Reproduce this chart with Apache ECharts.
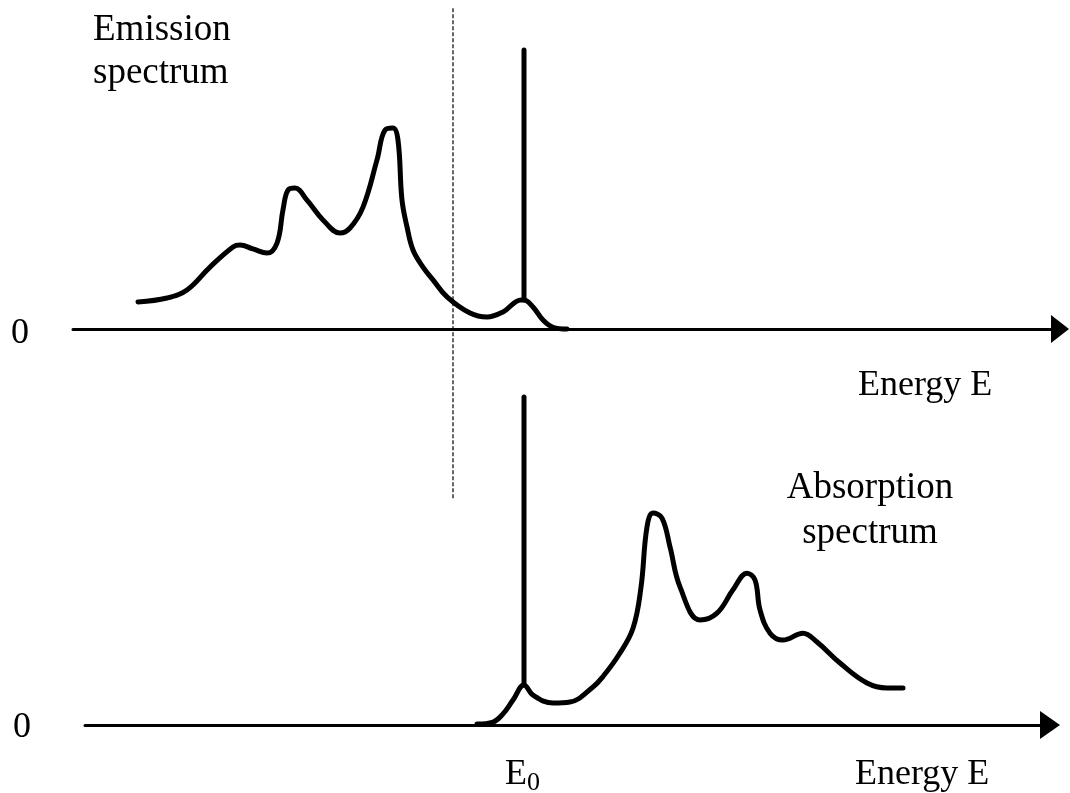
<!DOCTYPE html>
<html>
<head>
<meta charset="utf-8">
<title>Emission and absorption spectra</title>
<script src="https://cdn.jsdelivr.net/npm/echarts@6/dist/echarts.min.js"></script>
<style>
  html, body { margin: 0; padding: 0; background: #fff; }
  #chart { width: 1070px; height: 793px; }
</style>
</head>
<body>
<div id="chart"></div>
<script>
// Energy (arbitrary units) and intensity (0-100) sampled along each spectrum
const emissionE = [6.5, 9.4, 11.4, 13.7, 16.0, 16.7, 18.0, 19.4, 20.4, 21.0, 21.5, 22.2, 23.4, 25.0, 26.7, 27.7, 29.0, 30.4, 31.2, 32.0, 32.5, 32.9, 33.4, 34.0, 35.0, 36.0, 37.4, 39.7, 41.4, 43.0, 44.8, 45.1, 46.0, 47.0, 48.0, 49.4];
const emissionI = [9.7, 11.1, 14.0, 22.2, 29.4, 30.1, 28.7, 27.2, 30.8, 42.7, 49.8, 50.5, 46.2, 39.1, 34.4, 36.2, 43.7, 60.6, 71.3, 72.0, 67.7, 46.2, 36.6, 28.3, 22.2, 17.6, 11.5, 5.7, 4.3, 6.1, 10.4, 10.4, 7.9, 3.2, 0.6, 0];

const absorptionE = [40.4, 42.0, 43.0, 44.0, 45.1, 46.0, 48.0, 49.7, 52.0, 53.0, 54.6, 56.0, 56.8, 57.4, 58.0, 58.9, 59.7, 60.7, 62.7, 64.4, 66.0, 67.4, 68.2, 68.7, 69.7, 71.0, 73.0, 74.4, 76.7, 79.4, 81.4, 83.0];
const absorptionI = [0.3, 0.9, 3.4, 7.6, 12.2, 9.1, 6.7, 7.0, 11.6, 14.8, 21.5, 29.5, 42.0, 60.4, 64.6, 63.1, 54.3, 42.1, 32.0, 34.1, 41.2, 46.3, 44.2, 35.1, 28.0, 25.9, 28.0, 25.3, 18.9, 12.8, 11.3, 11.3];

// Zero-phonon line at E0, drawn as a sharp spike in both spectra
const E0 = 45.1;
const emissionSpike = [10.4, 100];
const absorptionSpike = [12.2, 100];

// Dashed guide: energy and its extent (top of the emission panel down into the absorption panel)
const guideE = 38.0;
const guideTopI = 115;     // intensity units of the emission panel
const guideBottomI = 69;   // intensity units of the absorption panel

// Visible energy range of each axis
const emissionRange = [0, 98.7];
const absorptionRange = [1.2, 97.7];

const axisTexts = { zero: '0', energy: 'Energy E', e0Main: 'E', e0Sub: '0' };
const panelTitles = { emission: 'Emission\nspectrum', absorption: 'Absorption\nspectrum' };

const SERIF = '"Liberation Serif", "Times New Roman", Times, serif';
const INK = '#000';

function pairs(xs, ys) { return xs.map((x, i) => [x, ys[i]]); }

function xAxisCfg(gridIndex, range) {
  return {
    type: 'value', gridIndex: gridIndex, min: range[0], max: range[1],
    axisLine: {
      show: true, onZero: false,
      symbol: ['none', 'triangle'],
      symbolSize: gridIndex === 0 ? [28, 18] : [28, 20],
      lineStyle: { color: INK, width: 3 }
    },
    axisTick: { show: false }, axisLabel: { show: false }, splitLine: { show: false }
  };
}

function yAxisCfg(gridIndex) {
  return {
    type: 'value', gridIndex: gridIndex, min: 0, max: 100, interval: 100,
    axisLine: { show: false }, axisTick: { show: false }, splitLine: { show: false },
    axisLabel: { show: false }
  };
}

function curve(xi, data, smooth) {
  return {
    type: 'line', xAxisIndex: xi, yAxisIndex: xi, data: data,
    smooth: smooth, symbol: 'none', clip: false, silent: true,
    lineStyle: { color: INK, width: 5, cap: 'round', join: 'round' }
  };
}

const chart = echarts.init(document.getElementById('chart'), null, { renderer: 'canvas' });

chart.setOption({
  animation: false,
  backgroundColor: '#fff',
  grid: [
    { left: 73, right: 10, top: 50, bottom: 464 },
    { left: 85, right: 20, top: 397, bottom: 68 }
  ],
  xAxis: [xAxisCfg(0, emissionRange), xAxisCfg(1, absorptionRange)],
  yAxis: [yAxisCfg(0), yAxisCfg(1)],
  series: [
    curve(0, pairs(emissionE, emissionI), 0.4),
    curve(0, [[E0, emissionSpike[0]], [E0, emissionSpike[1]]], false),
    curve(1, pairs(absorptionE, absorptionI), 0.4),
    curve(1, [[E0, absorptionSpike[0]], [E0, absorptionSpike[1]]], false)
  ]
});

// Annotations placed from the axes' own scales
const guideTop = chart.convertToPixel({ gridIndex: 0 }, [guideE, guideTopI]);
const guideBottom = chart.convertToPixel({ gridIndex: 1 }, [guideE, guideBottomI]);
const e0Px = chart.convertToPixel({ gridIndex: 1 }, [E0, 0]);
const zeroTop = chart.convertToPixel({ gridIndex: 0 }, [emissionRange[0], 0]);
const zeroBottom = chart.convertToPixel({ gridIndex: 1 }, [absorptionRange[0], 0]);

function label(text, x, y, size, align, lineHeight) {
  return {
    type: 'text', x: x, y: y, silent: true,
    style: {
      text: text, fill: INK, font: size + 'px ' + SERIF,
      align: align, verticalAlign: 'middle', lineHeight: lineHeight || size
    }
  };
}

chart.setOption({
  graphic: [
    {
      type: 'line', silent: true,
      shape: { x1: guideTop[0], y1: guideTop[1], x2: guideBottom[0], y2: guideBottom[1] },
      style: { stroke: '#333', lineWidth: 1.5, lineDash: [4, 2] }
    },
    // zero marks of the two intensity axes
    label(axisTexts.zero, zeroTop[0] - 44, zeroTop[1] + 5, 36, 'right'),
    label(axisTexts.zero, zeroBottom[0] - 54, zeroBottom[1] + 3, 36, 'right'),
    label(panelTitles.emission, 93, 52, 37, 'left', 43),
    label(panelTitles.absorption, 870, 511, 37, 'center', 45),
    label(axisTexts.energy, 858, 386, 36, 'left'),
    label(axisTexts.energy, 855, 775, 36, 'left'),
    label(axisTexts.e0Main, e0Px[0] - 19, 775, 36, 'left'),
    label(axisTexts.e0Sub, e0Px[0] + 3, 783, 26, 'left')
  ]
});
</script>
</body>
</html>
